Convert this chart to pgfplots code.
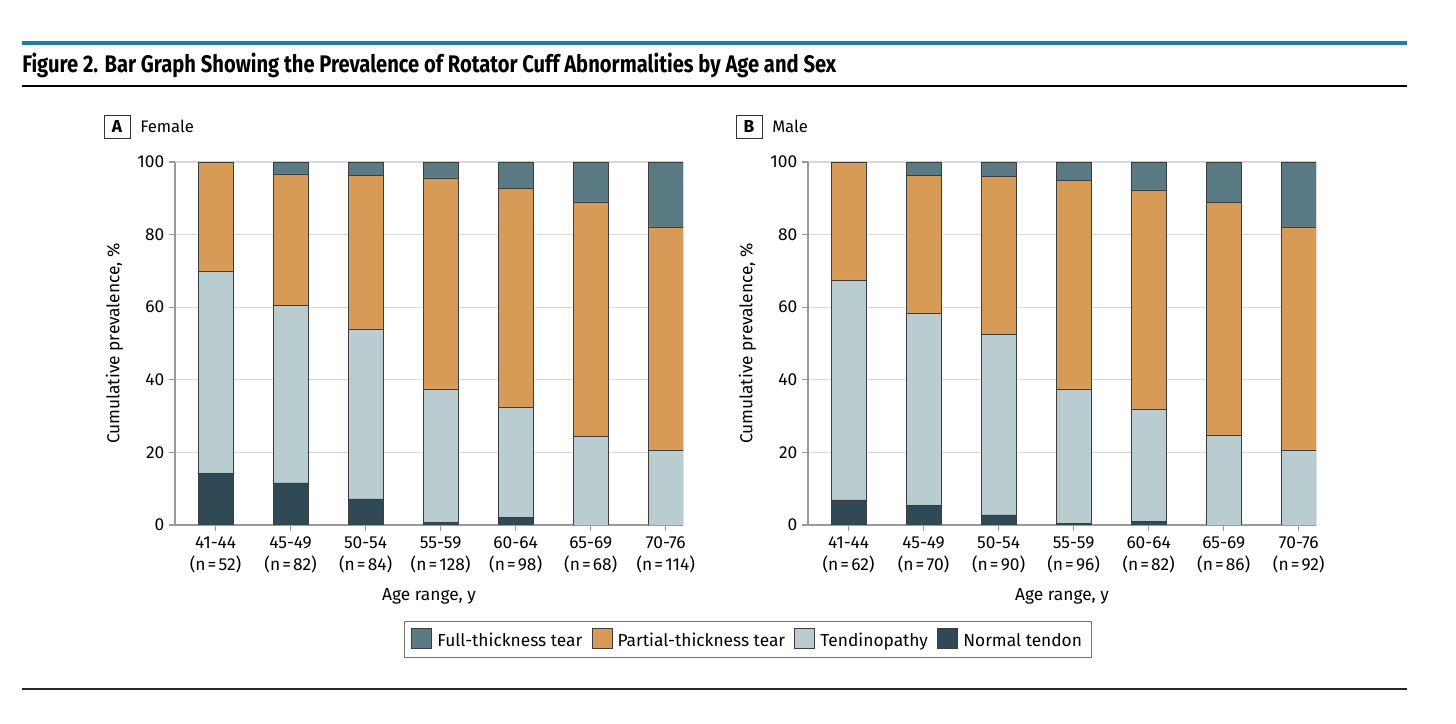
\documentclass[border=0pt]{standalone}
\usepackage{fontspec}
\setmainfont{Fira Sans}
\newfontfamily\titlefont[FakeStretch=0.84]{Fira Sans}
\usepackage{pgfplots}
\usepackage{pgfplotstable}
\pgfplotsset{compat=1.18}

\definecolor{jamablue}{RGB}{28,126,162}
\definecolor{fullc}{RGB}{91,123,132}
\definecolor{partc}{RGB}{216,154,87}
\definecolor{tendc}{RGB}{185,205,209}
\definecolor{normc}{RGB}{47,74,84}
\definecolor{edgec}{RGB}{60,60,60}

% increments, stacked bottom to top
\pgfplotstableread{
x normal tend partial full
0 14.3 55.7 30.0 0.0
1 11.6 49.0 36.1 3.3
2 7.2 46.8 42.4 3.6
3 0.8 36.7 58.1 4.4
4 2.0 30.5 60.3 7.2
5 0.0 24.5 64.5 11.0
6 0.0 20.6 61.5 17.9
}\female
\pgfplotstableread{
x normal tend partial full
0 6.9 60.6 32.5 0.0
1 5.5 52.9 38.0 3.6
2 2.8 49.8 43.5 3.9
3 0.4 37.1 57.5 5.0
4 1.1 30.9 60.3 7.7
5 0.0 24.8 64.0 11.2
6 0.0 20.7 61.4 17.9
}\male

\newcommand{\tf}{\fontsize{13}{16}\selectfont}
\newcommand{\nn}[1]{(n\kern1.6pt=\kern1.6pt#1)}

\pgfplotsset{
  panel/.style={
    scale only axis, width=381pt, height=272.25pt,
    anchor=south west,
    xmin=-0.54, xmax=6.23, ymin=0, ymax=100,
    ybar stacked, bar width=26.25pt,
    axis lines*=left,
    axis line style={gray!80, line width=0.8pt},
    ytick={0,20,...,100}, xtick={0,...,6},
    tick align=outside, major tick length=4.5pt,
    tick style={gray!80, line width=0.8pt},
    ymajorgrids, grid style={gray!30, line width=0.8pt},
    /pgf/number format/assume math mode=true,
    tick label style={font=\tf},
    xticklabel style={align=center, yshift=-1pt},
    label style={font=\tf},
    ylabel={Cumulative prevalence, \%},
    ylabel style={at={(axis description cs:-0.119,0.5)}, anchor=center},
    xlabel={Age range, y},
    xlabel style={at={(axis description cs:0.5,-0.196)}, anchor=center},
    every axis plot/.append style={draw=edgec, line width=0.5pt},
  }
}

\begin{document}
\begin{tikzpicture}[x=0.75pt,y=0.75pt]
\path[use as bounding box] (0,0) rectangle (1456,724);
\draw[line width=3pt, jamablue] (22,681) -- (1407,681);
\node[anchor=base west, inner sep=0pt, font=\titlefont\bfseries\fontsize{18}{20}\selectfont] at (22,651) {Figure 2. Bar Graph Showing the Prevalence of Rotator Cuff Abnormalities by Age and Sex};
\draw[line width=1.1pt] (22,638) -- (1407,638);
\draw[line width=1.5pt, black!85] (22,35) -- (1407,35);

\node[draw=black!80, line width=0.6pt, minimum width=19.5pt, minimum height=17.25pt, inner sep=0pt, font=\bfseries\tf] at (117,597.5) {A};
\node[anchor=base west, inner sep=0pt, font=\fontsize{12.5}{15}\selectfont] at (140,591) {Female};
\node[draw=black!80, line width=0.6pt, minimum width=19.5pt, minimum height=17.25pt, inner sep=0pt, font=\bfseries\tf] at (749,597.5) {B};
\node[anchor=base west, inner sep=0pt, font=\fontsize{12.5}{15}\selectfont] at (772,591) {Male};

\coordinate (fa) at (175,199);
\coordinate (ma) at (808,199);

\begin{axis}[panel, at={(fa)},
  xticklabels={{41-44\\\nn{52}},{45-49\\\nn{82}},{50-54\\\nn{84}},{55-59\\\nn{128}},{60-64\\\nn{98}},{65-69\\\nn{68}},{70-76\\\nn{114}}},
  reverse legend,
  legend columns=4,
  legend style={at={(axis description cs:1.128,-0.315)}, anchor=center,
    draw=black!55, line width=0.6pt, font=\tf, inner xsep=5pt, inner ysep=5pt,
    /tikz/every odd column/.append style={column sep=2pt},
    /tikz/every even column/.append style={column sep=5pt}},
  legend image code/.code={\draw[#1] (0pt,-5.5pt) rectangle (15pt,9.5pt);},
]
\addplot[fill=normc] table[x=x,y=normal] {\female};
\addplot[fill=tendc] table[x=x,y=tend] {\female};
\addplot[fill=partc] table[x=x,y=partial] {\female};
\addplot[fill=fullc] table[x=x,y=full] {\female};
\legend{Normal tendon, Tendinopathy, Partial-thickness tear, Full-thickness tear}
\end{axis}

\begin{axis}[panel, at={(ma)},
  xticklabels={{41-44\\\nn{62}},{45-49\\\nn{70}},{50-54\\\nn{90}},{55-59\\\nn{96}},{60-64\\\nn{82}},{65-69\\\nn{86}},{70-76\\\nn{92}}},
]
\addplot[fill=normc] table[x=x,y=normal] {\male};
\addplot[fill=tendc] table[x=x,y=tend] {\male};
\addplot[fill=partc] table[x=x,y=partial] {\male};
\addplot[fill=fullc] table[x=x,y=full] {\male};
\end{axis}
\end{tikzpicture}
\end{document}
